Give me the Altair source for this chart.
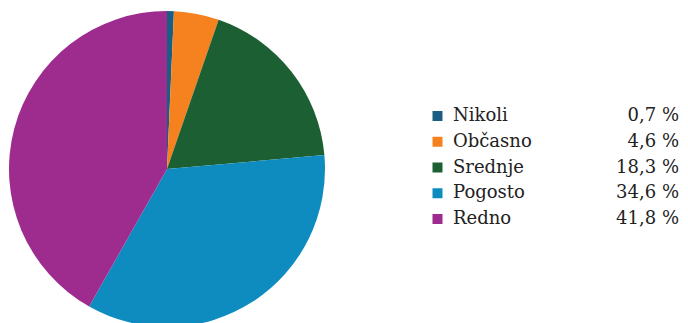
import altair as alt
import pandas as pd

categories = ["Nikoli", "Občasno", "Srednje", "Pogosto", "Redno"]
values = [0.7, 4.6, 18.3, 34.6, 41.8]
colors = ["#1b5e84", "#f5821f", "#1c5f33", "#0f8cbf", "#9e2c8e"]

df = pd.DataFrame({
    "cat": categories,
    "value": values,
    "order": list(range(len(categories))),
    "label": [f"{v:.1f}".replace(".", ",") + " %" for v in values],
})

color = alt.Color("cat:N", scale=alt.Scale(domain=categories, range=colors), legend=None)
base = alt.Chart(df)

pie = base.mark_arc(radius=158).encode(
    theta=alt.Theta("value:Q", stack=True),
    color=color,
    order=alt.Order("order:Q"),
    x=alt.value(159),
    y=alt.value(161),
)

yenc = alt.Y("cat:N", sort=categories, axis=None,
             scale=alt.Scale(type="point", range=[108, 211], padding=0))

squares = base.mark_square(size=100, opacity=1).encode(
    x=alt.value(429.5), y=yenc, color=color)

labels = base.mark_text(align="left", baseline="middle", font="DejaVu Serif",
                        fontSize=18, color="#222222").encode(
    x=alt.value(445), y=yenc, text="cat:N")

vals = base.mark_text(align="right", baseline="middle", font="DejaVu Serif",
                      fontSize=18, color="#222222").encode(
    x=alt.value(671), y=yenc, text="label:N")

chart = alt.layer(pie, squares, labels, vals).properties(
    width=672, height=315, autosize=alt.AutoSizeParams(type="none"), padding=0
).configure_view(stroke=None)

chart.save("out.html", embed_options={"renderer": "svg", "actions": False})
